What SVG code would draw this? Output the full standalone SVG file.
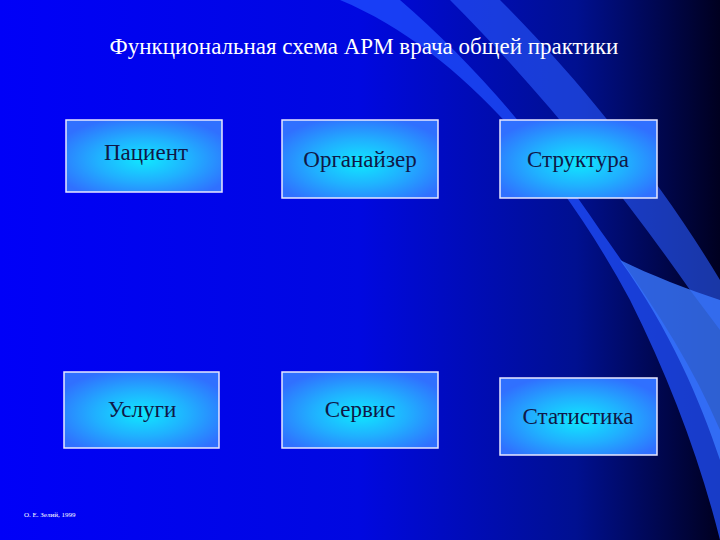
<svg xmlns="http://www.w3.org/2000/svg" width="720" height="540" viewBox="0 0 720 540">
<defs>
<linearGradient id="bg" x1="0" y1="0" x2="1" y2="0">
<stop offset="0" stop-color="#0000f8"/><stop offset="0.5" stop-color="#0008e0"/><stop offset="0.8" stop-color="#001090"/><stop offset="1" stop-color="#000020"/>
</linearGradient>
<radialGradient id="bx" cx="0.5" cy="0.55" r="0.6">
<stop offset="0" stop-color="#10e8ff"/><stop offset="0.5" stop-color="#20b0ff"/><stop offset="1" stop-color="#3070ff"/>
</radialGradient>
<style>
.b{fill:url(#bx);stroke:#e8e8ff;stroke-width:1.5}
.t{font-family:"Liberation Serif",serif;font-size:23px;fill:#101848;text-anchor:middle}
</style>
</defs>
<rect width="720" height="540" fill="url(#bg)"/>
<path d="M340 0 C460 50 560 170 630 300 C670 380 700 460 720 540 L720 430 C690 360 650 300 600 230 C540 140 470 60 400 0 Z" fill="#2050ff" opacity="0.75"/>
<path d="M450 0 C540 90 620 190 690 290 L720 330 L720 280 C660 180 580 80 500 0 Z" fill="#2a5cff" opacity="0.6"/>
<path d="M620 260 C670 330 700 400 720 460 L720 300 C690 290 650 275 620 260 Z" fill="#3a78ff" opacity="0.8"/>
<text x="364" y="54" font-family="Liberation Serif,serif" font-size="23" fill="#ffffff" text-anchor="middle">Функциональная схема АРМ врача общей практики</text>
<g id="n1"><rect class="b" x="66" y="120" width="156" height="72"/><text class="t" x="146" y="160">Пациент</text></g>
<g id="n2"><rect class="b" x="282" y="120" width="156" height="78"/><text class="t" x="360" y="167">Органайзер</text></g>
<g id="n3"><rect class="b" x="500" y="120" width="157" height="78"/><text class="t" x="578" y="167">Структура</text></g>
<g id="n4"><rect class="b" x="64" y="372" width="155" height="76"/><text class="t" x="142" y="417">Услуги</text></g>
<g id="n5"><rect class="b" x="282" y="372" width="156" height="76"/><text class="t" x="360" y="417">Сервис</text></g>
<g id="n6"><rect class="b" x="500" y="378" width="157" height="77"/><text class="t" x="578" y="424">Статистика</text></g>
<g id="connectors"/>
<text x="24" y="517" font-family="Liberation Serif,serif" font-size="7" fill="#ffffff">О. Е. Зелий, 1999</text>
</svg>
